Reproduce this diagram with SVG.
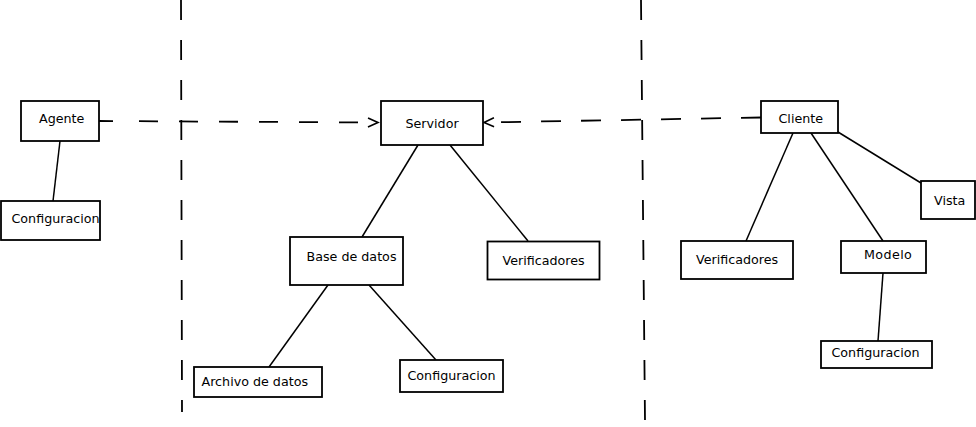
<svg xmlns="http://www.w3.org/2000/svg" width="976" height="427" viewBox="0 0 976 427">
<style>
.box{fill:#fff;stroke:#000;stroke-width:1.8}
.lbl{font-family:"DejaVu Sans",sans-serif;font-size:12.7px;fill:#000}
.ln{stroke:#000;stroke-width:1.5;fill:none}
.dash{stroke:#000;stroke-width:1.8;fill:none;stroke-dasharray:20,20}
</style>
<defs>
<marker id="open" markerWidth="14" markerHeight="14" refX="11" refY="6" orient="auto" markerUnits="userSpaceOnUse">
<path d="M1,1.5 L11,6 L1,10.5" fill="none" stroke="#000" stroke-width="1.6"/>
</marker>
</defs>
<rect width="976" height="427" fill="#fff"/>
<g id="connectors">
<line class="dash" x1="181" y1="0" x2="182" y2="412"/>
<line class="dash" x1="641" y1="0" x2="645" y2="421"/>
<line class="dash" x1="99" y1="121" x2="378" y2="122.5" marker-end="url(#open)" style="stroke-dasharray:14 26 19 21 19 21 19 21 19 21 19 21 19 21 19 21"/>
<line class="dash" x1="761" y1="117.5" x2="484" y2="122.5" marker-end="url(#open)"/>
<line class="ln" x1="60" y1="141" x2="53" y2="201"/>
<line class="ln" x1="418" y1="145" x2="362" y2="237"/>
<line class="ln" x1="450" y1="145" x2="528" y2="241"/>
<line class="ln" x1="328" y1="285" x2="269" y2="367"/>
<line class="ln" x1="369" y1="285" x2="436" y2="360"/>
<line class="ln" x1="793" y1="133" x2="746" y2="241"/>
<line class="ln" x1="811" y1="133" x2="883" y2="241"/>
<line class="ln" x1="838" y1="132" x2="921" y2="183"/>
<line class="ln" x1="883" y1="273" x2="878" y2="341"/>
</g>
<g id="agente"><rect class="box" x="21" y="101" width="78" height="40"/><text class="lbl" x="39" y="123">Agente</text></g>
<g id="configuracion-agente"><rect class="box" x="1" y="201" width="99" height="39"/><text class="lbl" x="11.5" y="223">Configuracion</text></g>
<g id="servidor"><rect class="box" x="381" y="101" width="102" height="44"/><text class="lbl" x="405.5" y="128">Servidor</text></g>
<g id="base-de-datos"><rect class="box" x="290" y="237" width="113" height="48"/><text class="lbl" x="306.5" y="261">Base de datos</text></g>
<g id="verificadores-servidor"><rect class="box" x="487.5" y="241.5" width="112" height="38" stroke-width="1.5"/><text class="lbl" x="502.5" y="265">Verificadores</text></g>
<g id="archivo-de-datos"><rect class="box" x="194" y="367" width="128" height="30"/><text class="lbl" x="201.5" y="386">Archivo de datos</text></g>
<g id="configuracion-servidor"><rect class="box" x="400" y="360" width="103" height="32"/><text class="lbl" x="407.5" y="380">Configuracion</text></g>
<g id="cliente"><rect class="box" x="761" y="101" width="77" height="32"/><text class="lbl" x="778.5" y="123">Cliente</text></g>
<g id="vista"><rect class="box" x="921" y="181" width="54" height="38"/><text class="lbl" x="934" y="205">Vista</text></g>
<g id="verificadores-cliente"><rect class="box" x="681" y="241" width="112" height="38"/><text class="lbl" x="696" y="264">Verificadores</text></g>
<g id="modelo"><rect class="box" x="841" y="241" width="85" height="32"/><text class="lbl" x="864" y="258.5" letter-spacing="0.4">Modelo</text></g>
<g id="configuracion-cliente"><rect class="box" x="821" y="341" width="111" height="27"/><text class="lbl" x="831.5" y="357">Configuracion</text></g>
</svg>
